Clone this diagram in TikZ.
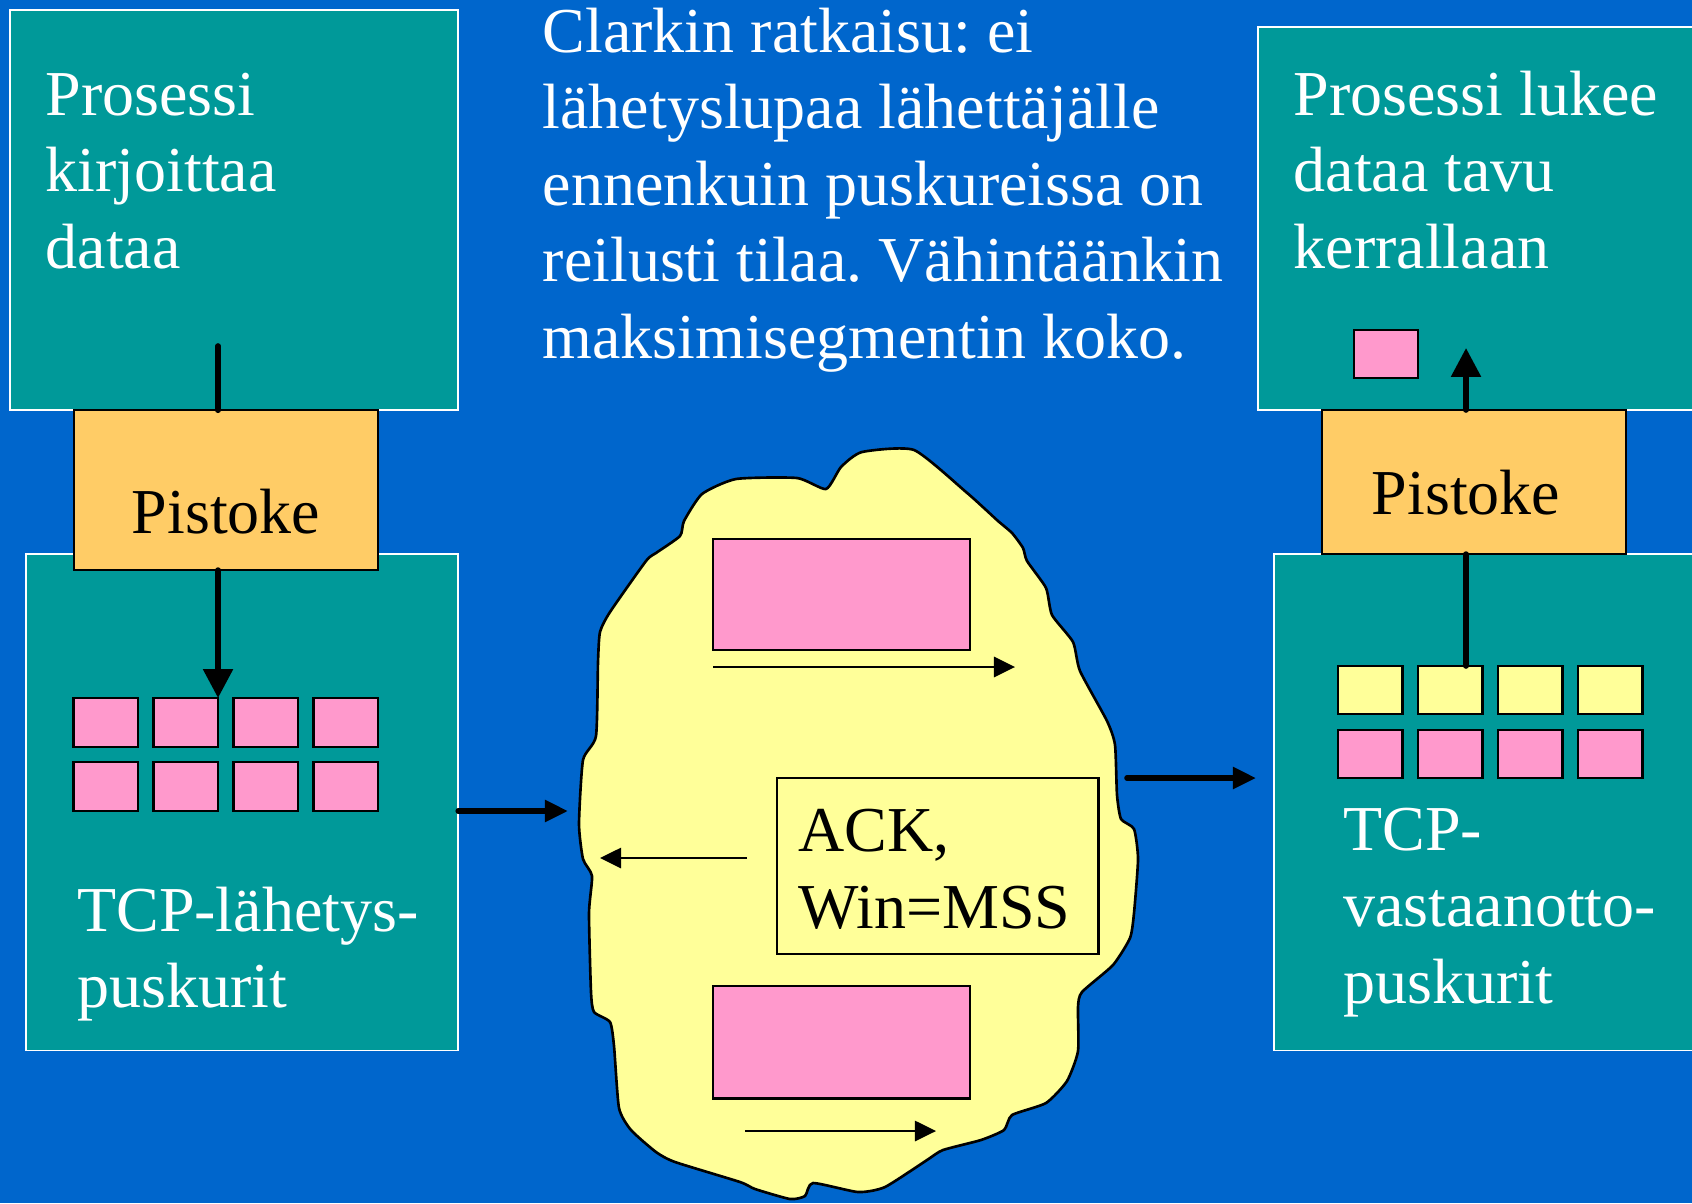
\documentclass[tikz,border=0pt]{standalone}
\usepackage{fontspec}
\setmainfont{Liberation Serif}
\usetikzlibrary{arrows.meta}

\definecolor{bgblue}{RGB}{0,102,204}
\definecolor{boxteal}{RGB}{0,153,153}
\definecolor{sockorange}{RGB}{255,204,102}
\definecolor{segpink}{RGB}{255,153,204}
\definecolor{netyellow}{RGB}{255,255,153}

\newcommand\bodyfont{\fontsize{18.2pt}{21.8pt}\selectfont\frenchspacing}
\newcommand\txtlines[1]{\begin{tabular}[t]{@{}l@{}}#1\end{tabular}}

\begin{document}
\begin{tikzpicture}[x=0.01cm,y=-0.01cm,
  box/.style={anchor=north west, inner sep=0pt, outer sep=0pt},
  procbox/.style={box, fill=boxteal, draw=white, line width=0.45pt},
  sockbox/.style={box, fill=sockorange, draw=black, line width=0.7pt},
  seg/.style={box, fill=segpink, draw=black, line width=0.7pt,
              minimum width=0.645cm, minimum height=0.49cm},
  slot/.style={seg, fill=netyellow, minimum height=0.48cm},
  wtxt/.style={anchor=base west, inner sep=0pt, text=white, font=\bodyfont},
  btxt/.style={wtxt, text=black},
  feed/.style={line width=1.6pt, line cap=round},
  bigtip/.style={-{Triangle[length=8.2pt,width=8.2pt]}},
  midtip/.style={-{Triangle[length=6.6pt,width=6pt]}},
  thinarrow/.style={line width=0.5pt, -{Triangle[length=6pt,width=5.8pt]}},
]
% page background
\fill[bgblue] (0,0) rectangle (1692,1203);
\useasboundingbox (0,0) rectangle (1692,1203);
\clip (0,0) rectangle (1692,1203);

% sender side
\node[procbox, minimum width=4.48cm, minimum height=4.00cm] (procL) at (10,10) {};
\node[procbox, minimum width=4.32cm, minimum height=4.96cm] (sendL) at (26,554) {};
\node[sockbox, minimum width=3.04cm, minimum height=1.60cm] (pistL) at (74,410) {};

% receiver side
\node[procbox, minimum width=4.60cm, minimum height=3.83cm] (procR) at (1258,27) {};
\node[procbox, minimum width=4.40cm, minimum height=4.96cm] (recvR) at (1274,554) {};
\node[sockbox, minimum width=3.04cm, minimum height=1.44cm] (pistR) at (1322,410) {};

% buffer segments
\foreach \i in {0,...,3} {
  \node[seg] (sa\i) at ({73.5+80*\i},698) {};
  \node[seg] (sb\i) at ({73.5+80*\i},762) {};
  \node[slot] (ya\i) at ({1338+80*\i},666) {};
  \node[seg, minimum height=0.48cm] (yb\i) at ({1338+80*\i},730) {};
}
\node[seg, minimum width=0.64cm, minimum height=0.48cm] (rd) at (1354,330) {};

% network cloud
\draw[fill=netyellow, line width=0.75pt, line join=round]
  plot[smooth cycle, tension=0.35] coordinates {
  (841,467) (862,452) (914,450) (966,492) (985,509) (998,521) (1012,533)
  (1023,548) (1027,561) (1046,588) (1052,615) (1073,642) (1080,671)
  (1107,721) (1115,745) (1117,795) (1121,819) (1134,829) (1138,859)
  (1134,913) (1130,938) (1113,965) (1082,992) (1078,1007) (1078,1051)
  (1067,1081) (1046,1103) (1012,1115) (1004,1130) (981,1140) (943,1150)
  (927,1160) (885,1187) (858,1192) (813,1183) (805,1196) (790,1199)
  (755,1189) (740,1182) (675,1162) (656,1152) (631,1130) (619,1108)
  (614,1046) (610,1022) (594,1012) (591,992) (589,913) (592,876)
  (583,859) (579,824) (583,760) (596,736) (598,662) (600,632) (610,612)
  (646,561) (656,553) (680,536) (684,521) (702,494) (736,479) (797,478)
  (826,489)};

\node[seg, minimum width=2.57cm, minimum height=1.11cm] (segA) at (713,539) {};
\node[seg, minimum width=2.57cm, minimum height=1.125cm] (segB) at (713,986) {};
\node[box, fill=netyellow, draw=black, line width=0.7pt,
      minimum width=3.215cm, minimum height=1.76cm] (ack) at (777,778) {};
\node[btxt] (acktxt) at (798,851.5) {\txtlines{ACK,\\Win=MSS}};

\coordinate (a1s) at (713,667);
\coordinate (a1e) at (1015,667);
\coordinate (a2s) at (747,858);
\coordinate (a2e) at (600,858);
\coordinate (a3s) at (745,1131);
\coordinate (a3e) at (936,1131);
\draw[thinarrow] (a1s) -- (a1e);
\draw[thinarrow] (a2s) -- (a2e);
\draw[thinarrow] (a3s) -- (a3e);

% data flow
\coordinate (wrt) at (218,346);
\draw[feed] (wrt) -- (wrt |- procL.south);
\draw[feed, bigtip] (sa1.north east |- pistL.south) -- (sa1.north east);
\coordinate (netin) at (568,811);
\draw[feed, midtip] (sendL.east |- netin) -- (netin);
\coordinate (netout) at (1127,778);
\coordinate (rin) at (1256,778);
\draw[feed, midtip] (netout) -- (rin);
\coordinate (rdx) at (1466,348);
\draw[feed] (rdx |- pistR.south) -- (rdx |- ya1.north);
\draw[feed, bigtip] (rdx |- pistR.north) -- (rdx);

% labels
\node[wtxt] (tProcL) at (45,115) {\txtlines{Prosessi\\kirjoittaa\\dataa}};
\node[wtxt] (tProcR) at (1293,115) {\txtlines{Prosessi lukee\\dataa tavu\\kerrallaan}};
\node[wtxt] (tSend) at (76.5,931) {\txtlines{TCP-lähetys-\\puskurit}};
\node[wtxt] (tRecv) at (1342.5,850) {\txtlines{TCP-\\vastaanotto-\\puskurit}};
\node[wtxt] (tNote) at (542,52) {\txtlines{Clarkin ratkaisu: ei\\lähetyslupaa lähettäjälle\\ennenkuin puskureissa on\\reilusti tilaa. Vähintäänkin\\maksimisegmentin koko.}};
\node[btxt, anchor=base] (lpL) at (226,533) {Pistoke};
\node[btxt, anchor=base] (lpR) at (1466,514) {Pistoke};
\end{tikzpicture}
\end{document}
